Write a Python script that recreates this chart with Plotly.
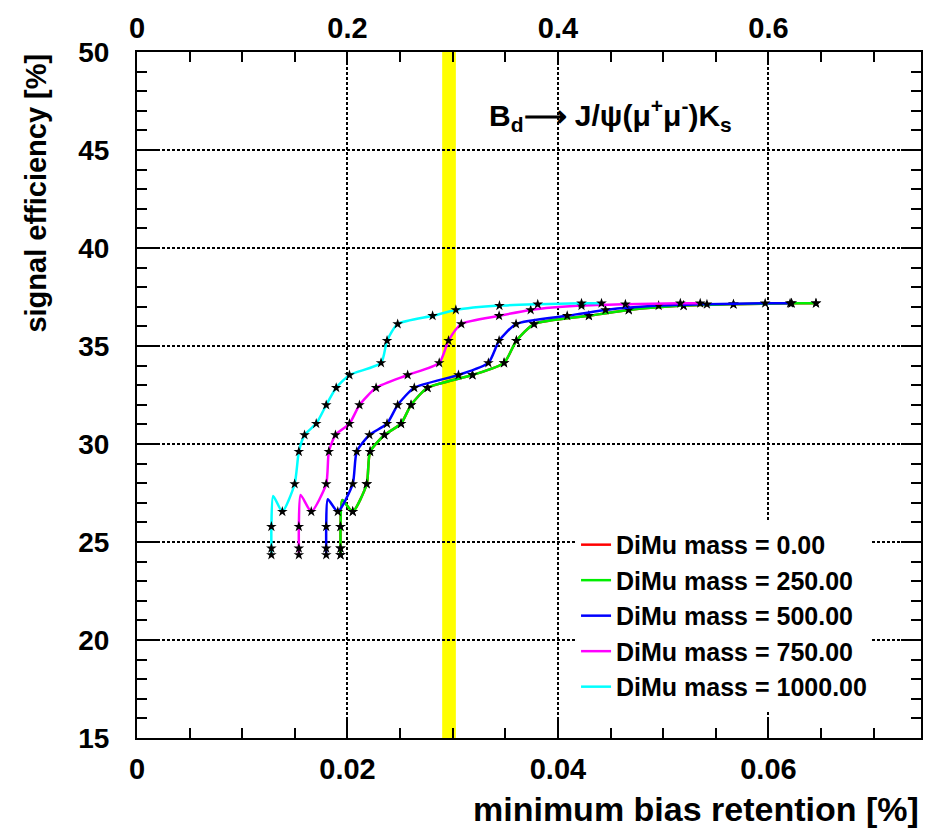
import plotly.graph_objects as go

# ---- data ----
eff_levels = [24.34, 24.68, 25.78, 26.55, 27.96, 29.61, 30.46, 31.04, 31.99, 32.87,
              33.52, 34.14, 35.27, 36.12, 36.54, 36.84, 37.06, 37.13, 37.18, 37.18]

x_mass1000 = [0.01277, 0.01277, 0.01277, 0.01381, 0.01498, 0.01538, 0.01592, 0.01703, 0.01798, 0.01893,
              0.02019, 0.02319, 0.02376, 0.02477, 0.02809, 0.03030, 0.03444, 0.03808, 0.04224, 0.04414]
x_mass750 = [0.01538, 0.01538, 0.01538, 0.01656, 0.01798, 0.01823, 0.01886, 0.02019, 0.02114, 0.02272,
             0.02572, 0.02872, 0.02960, 0.03082, 0.03441, 0.03741, 0.04224, 0.04641, 0.05163, 0.05352]
x_mass500 = [0.01798, 0.01798, 0.01798, 0.01908, 0.02050, 0.02088, 0.02209, 0.02376, 0.02477, 0.02635,
             0.03055, 0.03339, 0.03441, 0.03602, 0.04088, 0.04452, 0.04957, 0.05416, 0.05969, 0.06206]
x_mass250 = [0.01934, 0.01934, 0.01934, 0.02050, 0.02183, 0.02215, 0.02351, 0.02509, 0.02604, 0.02761,
             0.03188, 0.03488, 0.03605, 0.03773, 0.04294, 0.04673, 0.05194, 0.05668, 0.06220, 0.06452]
x_mass0 = x_mass250  # identical to the 250 curve (hidden beneath it)

# overshoot vertex of the smoothed curve right after the third point
peak_x = {"0.00": 0.01950, "250.00": 0.01950, "500.00": 0.01813, "750.00": 0.01555, "1000.00": 0.01294}
peak_y = {"0.00": 27.14, "250.00": 27.14, "500.00": 27.18, "750.00": 27.40, "1000.00": 27.35}

series_names = ["0.00", "250.00", "500.00", "750.00", "1000.00"]
series_x = [x_mass0, x_mass250, x_mass500, x_mass750, x_mass1000]
series_colors = ["#ff0000", "#00ee00", "#0000ff", "#ff00ff", "#00ffff"]

band_x = [0.0290, 0.0303]
x_range = [0, 0.0745]
y_range = [15, 50]
top_scale = 10  # top axis = 10 x bottom axis

FONT = "Liberation Sans, Arial, sans-serif"

fig = go.Figure()

for name, xs, col in zip(series_names, series_x, series_colors):
    lx = xs[:3] + [peak_x[name]] + xs[3:]
    ly = eff_levels[:3] + [peak_y[name]] + eff_levels[3:]
    fig.add_trace(go.Scatter(
        x=lx, y=ly, mode="lines", name=f"DiMu mass = {name}",
        line=dict(color=col, width=2.5, shape="spline", smoothing=0.6),
    ))
    fig.add_trace(go.Scatter(
        x=xs, y=eff_levels, mode="markers", showlegend=False, hoverinfo="skip",
        marker=dict(symbol="star", size=8, color="black"),
    ))

# invisible trace to activate top axis
fig.add_trace(go.Scatter(x=[x_range[0] * top_scale, x_range[1] * top_scale], y=[y_range[0], y_range[0]],
                         xaxis="x2", mode="markers", marker=dict(opacity=0), showlegend=False,
                         hoverinfo="skip"))

fig.add_vrect(x0=band_x[0], x1=band_x[1], fillcolor="#ffff00", opacity=1, line_width=0, layer="below")

xtickfont = dict(family=FONT, size=29, color="black", weight="bold")
ytickfont = dict(family=FONT, size=28, color="black", weight="bold")

fig.update_layout(
    width=931, height=832,
    margin=dict(l=137, r=8, t=52, b=94),
    paper_bgcolor="white", plot_bgcolor="white",
    xaxis=dict(
        range=x_range, tickvals=[0, 0.02, 0.04, 0.06], ticktext=["0", "0.02", "0.04", "0.06"],
        ticks="inside", ticklen=20, tickwidth=2, tickcolor="black",
        minor=dict(dtick=0.005, ticks="inside", ticklen=10, tickwidth=2, tickcolor="black", showgrid=False),
        showline=True, linecolor="black", linewidth=2, mirror=False,
        showgrid=True, gridcolor="black", gridwidth=2, griddash="3px,2px",
        tickfont=xtickfont, ticklabelstandoff=4, zeroline=False,
    ),
    xaxis2=dict(
        range=[x_range[0] * top_scale, x_range[1] * top_scale], overlaying="x", side="top",
        tickvals=[0, 0.2, 0.4, 0.6], ticktext=["0", "0.2", "0.4", "0.6"],
        ticks="inside", ticklen=10, tickwidth=2, tickcolor="black",
        minor=dict(dtick=0.05, ticks="inside", ticklen=10, tickwidth=2, tickcolor="black", showgrid=False),
        showline=True, linecolor="black", linewidth=2, showgrid=False, zeroline=False,
        tickfont=xtickfont, ticklabelstandoff=0,
    ),
    yaxis=dict(
        range=y_range, dtick=5, ticks="inside", ticklen=20, tickwidth=2, tickcolor="black",
        minor=dict(dtick=1, ticks="inside", ticklen=10, tickwidth=2, tickcolor="black", showgrid=False),
        showline=True, linecolor="black", linewidth=2, mirror="ticks",
        showgrid=True, gridcolor="black", gridwidth=2, griddash="3px,2px",
        tickfont=ytickfont, ticklabelstandoff=20, zeroline=False,
    ),
    legend=dict(
        x=0.56, y=0.315, xanchor="left", yanchor="top",
        bgcolor="white", borderwidth=0,
        font=dict(family=FONT, size=25, color="black", weight="bold"),
    ),
    showlegend=True,
)

fig.add_annotation(
    text="<b>B<sub>d</sub>⟶ J/ψ(μ<sup>+</sup>μ<sup>-</sup>)K<sub>s</sub></b>",
    xref="paper", yref="paper", x=0.4466, y=0.908, xanchor="left", yanchor="middle",
    showarrow=False, font=dict(family=FONT, size=30, color="black"),
)
fig.add_annotation(
    text="<b>minimum bias retention [%]</b>",
    xref="paper", yref="paper", x=1.0, y=-0.103, xanchor="right", yanchor="middle",
    showarrow=False, font=dict(family=FONT, size=34, color="black"),
)
fig.add_annotation(
    text="<b>signal efficiency [%]</b>",
    xref="paper", yref="paper", x=-0.13, y=1.0, xanchor="center", yanchor="top",
    textangle=-90, showarrow=False, font=dict(family=FONT, size=29, color="black"),
)

fig.write_html("out.html")
